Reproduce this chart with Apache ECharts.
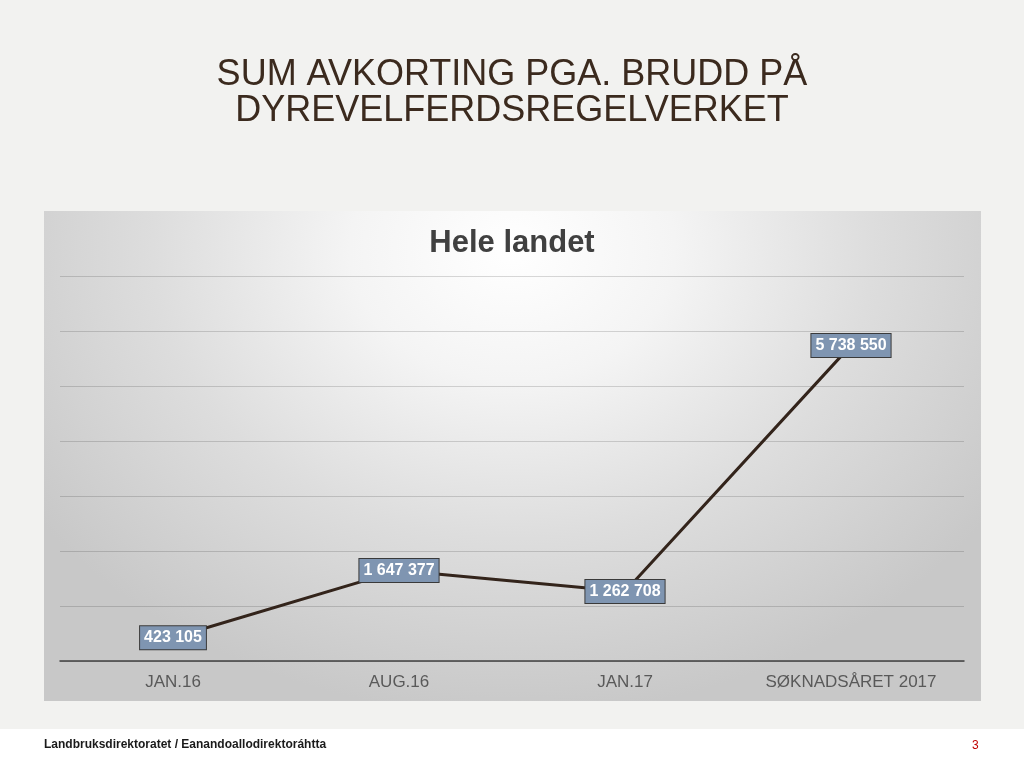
<!DOCTYPE html>
<html><head><meta charset="utf-8">
<script src="https://cdn.jsdelivr.net/npm/echarts@6/dist/echarts.min.js"></script>
<style>
html,body{margin:0;padding:0;background:#f2f2f0;}
#wrap{position:relative;width:1024px;height:761px;}
#panel{position:absolute;left:44px;top:211px;width:937px;height:490px;
  background:radial-gradient(ellipse 62% 95% at 50% 8%, #ffffff 0%, #f4f4f4 28%, #dddddd 62%, #c8c8c8 100%);}
#c{position:absolute;left:0;top:0;width:1024px;height:761px;}
</style>
</head><body><div id="wrap"><div id="panel"></div><div id="c"></div></div>
<script>
const categories = ['JAN.16', 'AUG.16', 'JAN.17', 'SØKNADSÅRET 2017'];
const values = [423105, 1647377, 1262708, 5738550];
const slideTitle = 'SUM AVKORTING PGA. BRUDD PÅ\nDYREVELFERDSREGELVERKET';
const chartTitle = 'Hele landet';
const footerText = 'Landbruksdirektoratet / Eanandoallodirektoráhtta';
const pageNumber = '3';

function fmt(v){ return String(v).replace(/\B(?=(\d{3})+(?!\d))/g, ' '); }

const chart = echarts.init(document.getElementById('c'), null, {renderer:'canvas'});
chart.setOption({
  backgroundColor: 'transparent',
  animation: false,
  graphic: [
    { type:'rect', z:-10, shape:{x:0,y:729,width:1024,height:32}, style:{fill:'#ffffff'} },
    { type:'text', left:44, top:739, style:{ text: footerText, fill:'#1a1a1a', font:'bold 12px "Liberation Sans", Arial, sans-serif' } },
    { type:'text', left:972, top:740, style:{ text: pageNumber, fill:'#c00000', font:'12px "Liberation Sans", Arial, sans-serif' } }
  ],
  title: [
    { text: slideTitle, left:'center', top:52,
      textStyle:{ color:'#3b2a1e', fontSize:36, fontWeight:'normal', fontFamily:'"Liberation Sans", Arial, sans-serif', lineHeight:36 } },
    { text: chartTitle, left:'center', top:223,
      textStyle:{ color:'#404040', fontSize:31, fontWeight:'bold', fontFamily:'"Liberation Sans", Arial, sans-serif' } }
  ],
  grid: { left:60, right:60, top:276, bottom:100 },
  xAxis: {
    type:'category', data: categories, boundaryGap:true,
    axisLine:{ lineStyle:{ color:'#404040', width:1.5 } },
    axisTick:{ show:false },
    axisLabel:{ color:'#595959', fontSize:17, margin:13, fontFamily:'"Liberation Sans", Arial, sans-serif' }
  },
  yAxis: {
    type:'value', min:0, max:7000000, interval:1000000,
    axisLabel:{ show:false }, axisLine:{ show:false }, axisTick:{ show:false },
    splitLine:{ lineStyle:{ color:'rgba(0,0,0,0.15)', width:1 } }
  },
  series: [{
    type:'line', data: values, symbol:'rect', symbolSize:1, showSymbol:true,
    itemStyle:{ color:'rgba(0,0,0,0)', borderWidth:0 },
    lineStyle:{ color:'#33241b', width:3 },
    label:{ show:true, position:'inside', formatter: p => fmt(p.value),
      color:'#ffffff', fontWeight:'bold', fontSize:16, fontFamily:'"Liberation Sans", Arial, sans-serif',
      backgroundColor:'#7f95b1', borderColor:'#3a3a3a', borderWidth:1, padding:[4,4,3,4] }
  }]
});
</script></body></html>
